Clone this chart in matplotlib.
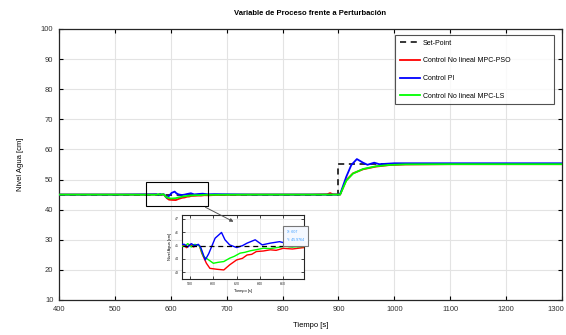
import matplotlib
matplotlib.use("Agg")
import matplotlib.pyplot as plt
from matplotlib.patches import Rectangle
import matplotlib.transforms as mtransforms

plt.rcParams['font.family'] = ['Liberation Sans', 'DejaVu Sans']

# Set-point
t_sp = [400, 900, 900, 1300]
y_sp = [45, 45, 55, 55]

# Control No lineal MPC-PSO (red)
t_pso = [400, 450, 500, 550, 574, 577, 580, 583, 586, 588, 590, 594, 597, 603, 609, 614, 620,
         625, 629, 633, 637, 643, 649, 654, 660, 668, 678, 750, 850, 880, 885, 890, 903,
         914, 926, 944, 967, 991, 1020, 1100, 1200, 1300]
y_pso = [45, 45, 45, 45, 45.05, 44.85, 45.1, 44.9, 45.05, 45.0, 44.44, 43.68, 43.3, 43.23, 43.18, 43.56, 43.93,
         44.05, 44.3, 44.35, 44.56, 44.6, 44.69, 44.65, 44.8, 44.75, 44.86, 45, 45, 45.1, 45.5, 45.1, 45,
         49.8, 52.05, 53.4, 54.3, 54.8, 55.0, 55.1, 55.1, 55.1]

# Control PI (blue)
t_pi = [400, 500, 575, 578, 581, 584, 587, 589, 593, 596, 601.5, 607, 610, 614, 620, 625, 629,
        636, 642, 649, 657, 666, 678, 750, 850, 900, 903, 914, 923, 933, 944, 952, 964, 973,
        1000, 1100, 1200, 1300]
y_pi = [45, 45, 45.1, 44.9, 45.15, 45.0, 45.1, 44.9, 43.93, 44.4, 45.56, 45.99, 45.44, 45.06, 44.86, 45.0, 45.19,
        45.44, 45.06, 45.19, 45.3, 45.1, 45.15, 45, 45, 45, 45.1, 50.9, 54.8, 56.8, 55.6, 54.9, 55.6, 55.1,
        55.4, 55.4, 55.4, 55.4]

# Control No lineal MPC-LS (green)
t_ls = [400, 500, 575, 578, 581, 584, 588, 591.5, 596, 600, 604, 609, 614, 618, 623, 627, 632, 637, 643,
        649, 655, 661, 668, 678, 750, 850, 900, 903, 914, 926, 944, 967, 991, 1020, 1100, 1300]
y_ls = [45, 45, 44.95, 45.15, 44.9, 45.1, 45.0, 44.19, 43.93, 43.68, 43.75, 43.81, 44.06, 44.2, 44.44, 44.5, 44.62, 44.7, 44.81,
        44.78, 44.86, 44.95, 44.9, 44.94, 45, 45, 45, 45, 49.6, 52.0, 53.5, 54.4, 54.85, 55.05, 55.1, 55.1]

x_ticks = [400, 500, 600, 700, 800, 900, 1000, 1100, 1200, 1300]
y_ticks = [10, 20, 30, 40, 50, 60, 70, 80, 90, 100]
inset_xticks = [580, 600, 620, 640, 660]
inset_yticks = [43, 44, 45, 46, 47]

labels = ['Set-Point', 'Control No lineal MPC-PSO', 'Control PI', 'Control No lineal MPC-LS']
colors = ['#ff0000', '#0000ff', '#00ff00']

fig = plt.figure(figsize=(5.66, 3.35), dpi=100)
ax = fig.add_axes([0.1042, 0.1045, 0.8887, 0.809])

ax.plot(t_sp, y_sp, color='black', ls=(0, (4, 3)), lw=1.1, label=labels[0], zorder=2)
ax.plot(t_pso, y_pso, color=colors[0], lw=1.3, label=labels[1], zorder=3)
ax.plot(t_pi, y_pi, color=colors[1], lw=1.3, label=labels[2], zorder=4)
ax.plot(t_ls, y_ls, color=colors[2], lw=1.3, label=labels[3], zorder=5)

ax.set_xlim(400, 1300)
ax.set_ylim(10, 100)
ax.set_xticks(x_ticks)
ax.set_yticks(y_ticks)
ax.grid(True, color='#e3e3e3', lw=0.8)
ax.set_axisbelow(True)
ax.tick_params(direction='in', top=True, right=True, length=3, width=0.8,
               labelsize=5.5, labelcolor='#333333', pad=4)
for s in ax.spines.values():
    s.set_color('#262626')
    s.set_linewidth(0.9)
ax.set_xlabel('Tiempo [s]', fontsize=5.5, labelpad=7)
ax.set_ylabel('Nivel Agua [cm]', fontsize=5.5, labelpad=12)
ax.set_title('Variable de Proceso frente a Perturbación', fontsize=5.5, fontweight='bold', pad=10)

# shift last x tick label slightly left so it stays inside the figure
fig.canvas.draw()
last = ax.get_xticklabels()[-1]
last.set_transform(last.get_transform() + mtransforms.ScaledTranslation(-6 / 100, 0, fig.dpi_scale_trans))

leg = ax.legend(loc='upper left', bbox_to_anchor=(0.662, 0.989, 0.330, 0.0), mode='expand',
                fontsize=5, frameon=True, fancybox=False, edgecolor='#262626',
                handlelength=3.0, labelspacing=1.55, borderpad=0.6, handletextpad=0.3)
leg.get_frame().set_linewidth(0.8)

# zoom rectangle
ax.add_patch(Rectangle((555, 41.2), 111, 8, fill=False, edgecolor='black', lw=0.8, zorder=6))

# arrow
fig.patches.append(matplotlib.patches.FancyArrowPatch(
    (203 / 566, 1 - 206 / 335), (236 / 566, 1 - 223 / 335), transform=fig.transFigure,
    arrowstyle='-|>', mutation_scale=5, color='#555555', lw=0.7))

# inset
ins = fig.add_axes([182 / 566, 56 / 335, 122 / 566, 64 / 335])
ins.plot(t_pso, y_pso, color=colors[0], lw=1.0, zorder=3)
ins.plot(t_ls, y_ls, color=colors[2], lw=1.0, zorder=4)
ins.plot(t_pi, y_pi, color=colors[1], lw=1.0, zorder=5)
ins.plot(t_sp, y_sp, color='black', ls=(0, (4, 3)), lw=0.9, zorder=6)
ins.set_xlim(573, 678)
ins.set_ylim(42.5, 47.3)
ins.set_xticks(inset_xticks)
ins.set_yticks(inset_yticks)
ins.grid(True, color='#e3e3e3', lw=0.5)
ins.tick_params(direction='in', top=True, right=True, length=2, width=0.5,
                labelsize=2.6, labelcolor='#333333', pad=2)
for s in ins.spines.values():
    s.set_color('#262626')
    s.set_linewidth(0.8)
ins.set_xlabel('Tiempo [s]', fontsize=2.8, labelpad=2)
ins.set_ylabel('Nivel Agua [cm]', fontsize=2.8, labelpad=2)

fig.text(287 / 566, 1 - 236 / 335, 'X: 607\nY: 45.9764', fontsize=2.6, color='#3399ff',
         va='center', ha='left', linespacing=2.2,
         bbox=dict(boxstyle='square,pad=1.2', facecolor='#f4f8ff', edgecolor='#777777', lw=0.8),
         zorder=10)

fig.savefig('out.png', dpi=100)
